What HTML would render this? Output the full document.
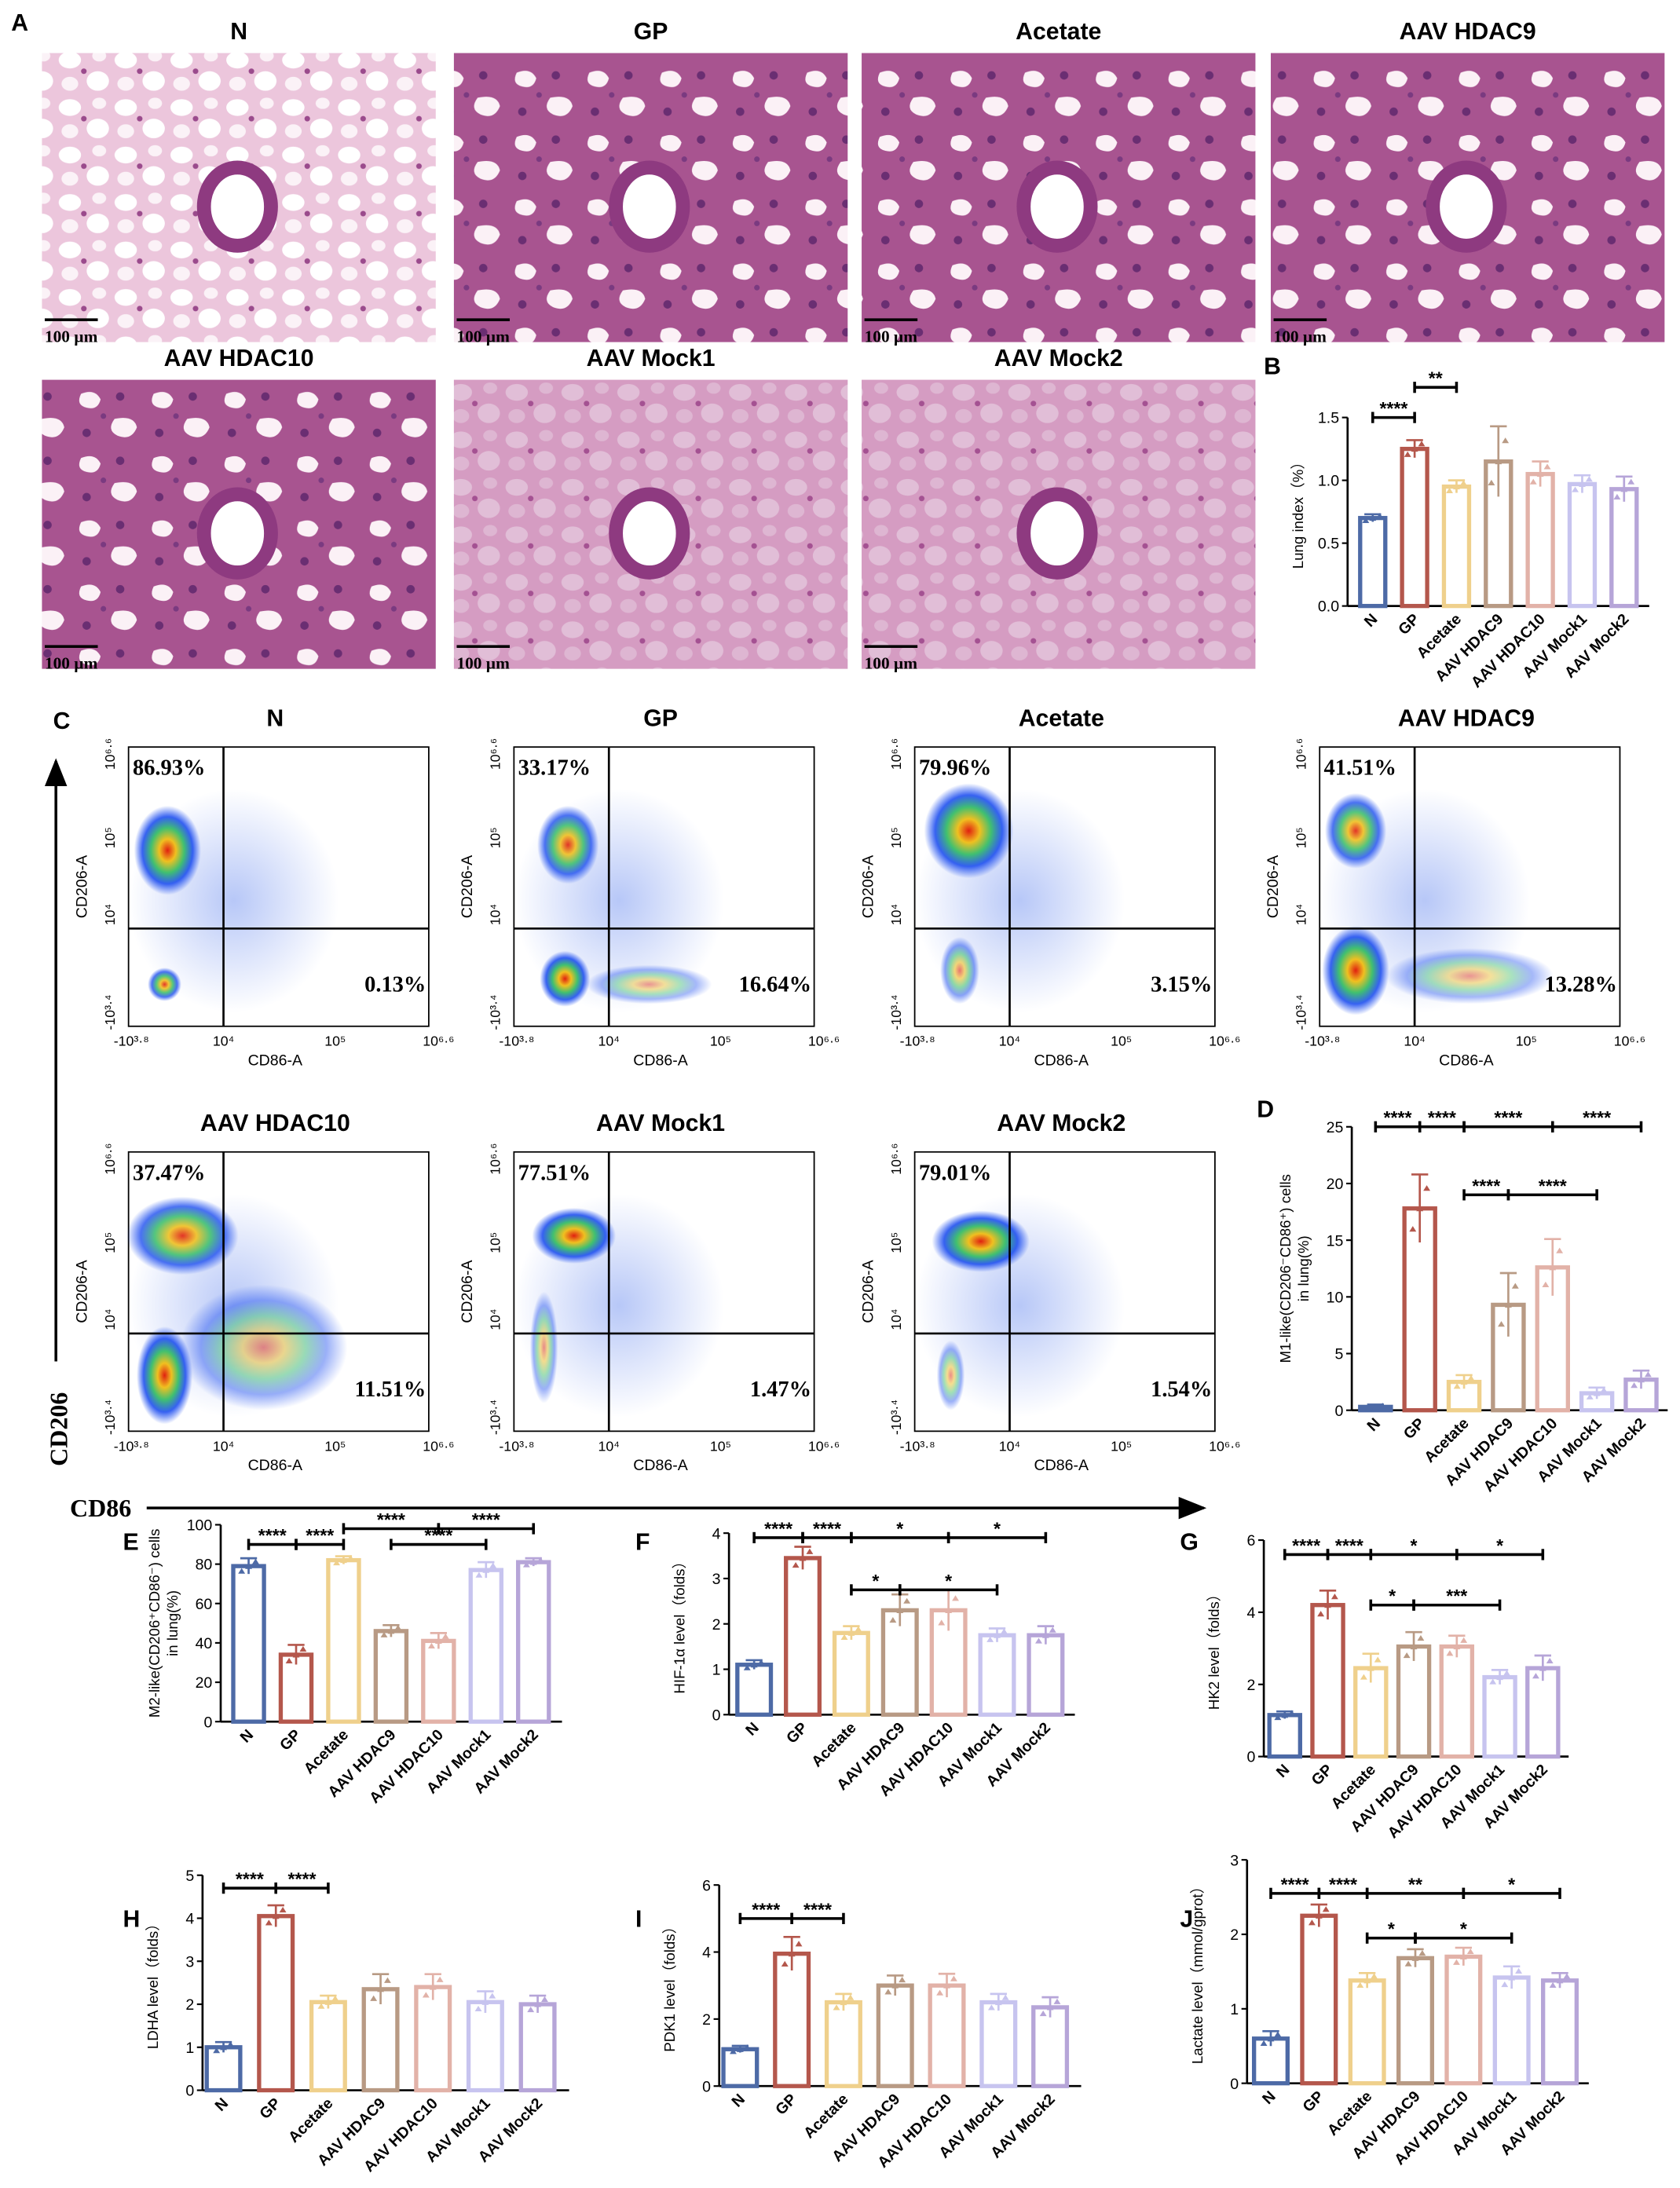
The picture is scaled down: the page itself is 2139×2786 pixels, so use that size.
<!DOCTYPE html>
<html><head><meta charset="utf-8">
<style>
html,body{margin:0;padding:0;background:#fff;}
svg{display:block;font-family:"Liberation Sans",Arial,sans-serif;}
</style></head>
<body>
<svg id="fig" xmlns="http://www.w3.org/2000/svg" width="2139" height="2786" viewBox="0 0 1203 1567">
<defs>
<pattern id="patLight" width="40" height="34" patternUnits="userSpaceOnUse">
<rect width="40" height="34" fill="#ecc6dc"/>
<ellipse cx="10" cy="9" rx="8" ry="6" fill="#fff"/>
<ellipse cx="30" cy="24" rx="8" ry="7" fill="#fff"/>
<ellipse cx="31" cy="6" rx="5" ry="4" fill="#fbf2f7"/>
<ellipse cx="10" cy="26" rx="6" ry="5" fill="#fbf2f7"/>
<circle cx="20" cy="17" r="2" fill="#9a4a8c"/>
</pattern>
<pattern id="patDark" width="52" height="46" patternUnits="userSpaceOnUse">
<rect width="52" height="46" fill="#a85490"/>
<path d="M6,6 q10,-4 14,4 q-2,8 -10,6 q-8,-2 -4,-10z" fill="#fbf1f6"/>
<path d="M30,24 q14,-3 16,6 q-4,10 -14,6 q-8,-4 -2,-12z" fill="#fbf1f6"/>
<circle cx="34" cy="8" r="3" fill="#6a2e72"/>
<circle cx="10" cy="34" r="3" fill="#6a2e72"/>
<circle cx="22" cy="22" r="2" fill="#7a3a80"/>
</pattern>
<radialGradient id="blob"><stop offset="0" stop-color="#e02010"/><stop offset="0.25" stop-color="#f0c020"/><stop offset="0.5" stop-color="#40c070"/><stop offset="0.75" stop-color="#2050f0" stop-opacity="0.9"/><stop offset="1" stop-color="#2050f0" stop-opacity="0"/></radialGradient>
<radialGradient id="haze"><stop offset="0" stop-color="#2a5ae8" stop-opacity="0.75"/><stop offset="1" stop-color="#2a5ae8" stop-opacity="0"/></radialGradient>
<marker id="arr" markerWidth="10" markerHeight="8" refX="9" refY="4" orient="auto"><path d="M0,0 L10,4 L0,8 z" fill="#000"/></marker>
</defs>
<g id="root"></g>
</svg>
<script>
// ---------- data ----------
const groups = ["N","GP","Acetate","AAV HDAC9","AAV HDAC10","AAV Mock1","AAV Mock2"];
const colors = ["#4d6aa6","#b4574c","#efd08c","#b89a84","#e2b2a8","#c7c4ef","#b6a5d8"];
const valsB = [0.70,1.25,0.95,1.15,1.05,0.97,0.93];
const errB = [0.03,0.07,0.05,0.28,0.10,0.07,0.10];
const valsD = [0.3,17.8,2.5,9.3,12.6,1.5,2.7];
const errD = [0.2,3.0,0.6,2.8,2.5,0.5,0.8];
const valsE = [79,34,82,46,41,77,81];
const errE = [4,5,2,3,4,4,2];
const valsF = [1.10,3.45,1.80,2.30,2.30,1.75,1.75];
const errF = [0.10,0.25,0.15,0.35,0.45,0.15,0.20];
const valsG = [1.15,4.20,2.45,3.05,3.05,2.20,2.45];
const errG = [0.10,0.40,0.40,0.40,0.30,0.20,0.35];
const valsH = [1.00,4.05,2.05,2.35,2.40,2.05,2.00];
const errH = [0.12,0.25,0.15,0.35,0.30,0.25,0.20];
const valsI = [1.10,3.95,2.50,3.00,3.00,2.50,2.35];
const errI = [0.10,0.50,0.25,0.30,0.35,0.25,0.30];
const valsJ = [0.60,2.25,1.38,1.68,1.70,1.42,1.38];
const errJ = [0.10,0.15,0.10,0.12,0.12,0.15,0.10];
const sigB = [[0,1,1.5,"****"],[1,2,1.74,"**"]];
const sigD = [[0,1,25,"****"],[1,2,25,"****"],[2,4,25,"****"],[4,6,25,"****"],[2,3,19,"****"],[3,5,19,"****"]];
const sigE = [[0,1,90,"****"],[1,2,90,"****"],[3,5,90,"****"],[2,4,98,"****"],[4,6,98,"****"]];
const sigF = [[0,1,3.9,"****"],[1,2,3.9,"****"],[2,4,3.9,"*"],[4,6,3.9,"*"],[2,3,2.75,"*"],[3,5,2.75,"*"]];
const sigG = [[0,1,5.6,"****"],[1,2,5.6,"****"],[2,4,5.6,"*"],[4,6,5.6,"*"],[2,3,4.2,"*"],[3,5,4.2,"***"]];
const sigH = [[0,1,4.7,"****"],[1,2,4.7,"****"]];
const sigI = [[0,1,5.0,"****"],[1,2,5.0,"****"]];
const sigJ = [[0,1,2.55,"****"],[1,2,2.55,"****"],[2,4,2.55,"**"],[4,6,2.55,"*"],[2,3,1.95,"*"],[3,5,1.95,"*"]];
const ticksB = [0,0.5,1.0,1.5], ticksD=[0,5,10,15,20,25], ticksE=[0,20,40,60,80,100], ticksF=[0,1,2,3,4], ticksG=[0,2,4,6], ticksH=[0,1,2,3,4,5], ticksI=[0,2,4,6], ticksJ=[0,1,2,3];
const flowPct = [["86.93%","0.13%"],["33.17%","16.64%"],["79.96%","3.15%"],["41.51%","13.28%"],["37.47%","11.51%"],["77.51%","1.47%"],["79.01%","1.54%"]];

const NS="http://www.w3.org/2000/svg";
const root=document.getElementById("root");
function el(tag,attrs,parent,text){const e=document.createElementNS(NS,tag);for(const k in attrs)e.setAttribute(k,attrs[k]);if(text!==undefined)e.textContent=text;(parent||root).appendChild(e);return e;}

// ---------- panel letters ----------
[["A",8,22],["B",905,268],["C",38,522],["D",900,800],["E",88,1110],["F",455,1110],["G",845,1110],["H",88,1380],["I",455,1380],["J",845,1380]].forEach(p=>{
  const t=el("text",{x:p[1],y:p[2],"font-size":17,"font-weight":"bold"},root,p[0]);
  
  
});

// ---------- histology ----------
const histo=[["N",30,38,"patLight"],["GP",325,38,"patDark"],["Acetate",617,38,"patDark"],["AAV HDAC9",910,38,"patDark"],["AAV HDAC10",30,272,"patDark"],["AAV Mock1",325,272,"patLight"],["AAV Mock2",617,272,"patLight"]];
histo.forEach(h=>{
  const g=el("g",{});
  
  
  el("rect",{x:h[1],y:h[2],width:282,height:207,fill:"url(#"+h[3]+")"},g);
  if(h[0]==="AAV Mock1"||h[0]==="AAV Mock2") el("rect",{x:h[1],y:h[2],width:282,height:207,fill:"#b35d9a",opacity:0.4},g);
  el("ellipse",{cx:h[1]+140,cy:h[2]+110,rx:24,ry:28,fill:"#fff",stroke:"#8e3a80","stroke-width":10},g);
  el("text",{x:h[1]+141,y:h[2]-10,"font-size":17,"font-weight":"bold","text-anchor":"middle"},g,h[0]);
  el("rect",{x:h[1]+2,y:h[2]+190,width:38,height:2,fill:"#000"},g);
  el("text",{x:h[1]+2,y:h[2]+207,"font-size":12,"font-weight":"bold","font-family":"Liberation Serif, serif"},g,"100 µm");
});

// ---------- flow plots ----------
const flowTitles=["N","GP","Acetate","AAV HDAC9","AAV HDAC10","AAV Mock1","AAV Mock2"];
const flowPos=[[92,535],[368,535],[655,535],[945,535],[92,825],[368,825],[655,825]];
const blobs=[
 [[0.13,0.37,24,32,1],[0.12,0.85,12,12,0.9]],
 [[0.18,0.35,22,28,0.9],[0.17,0.83,18,20,1],[0.45,0.85,45,14,0.45]],
 [[0.18,0.3,32,34,1],[0.15,0.8,14,24,0.6]],
 [[0.12,0.3,22,27,0.9],[0.12,0.8,24,32,1],[0.5,0.82,60,20,0.45]],
 [[0.18,0.3,40,28,0.9],[0.12,0.8,20,35,1],[0.45,0.7,60,45,0.5]],
 [[0.2,0.3,30,20,1],[0.1,0.7,10,40,0.5]],
 [[0.22,0.32,35,22,1],[0.12,0.8,10,25,0.5]]
];
flowPos.forEach((p,i)=>{
  const g=el("g",{});
  
  
  const x=p[0],y=p[1],w=215,h=200;
  el("text",{x:x+105,y:y-15,"font-size":17,"font-weight":"bold","text-anchor":"middle"},g,flowTitles[i]);
  el("rect",{x:x,y:y,width:w,height:h,fill:"#fff",stroke:"#000","stroke-width":1},g);
  el("ellipse",{cx:x+w*0.35,cy:y+h*0.55,rx:w*0.35,ry:h*0.4,fill:"url(#haze)",opacity:0.45},g);
  blobs[i].forEach(b=>{el("ellipse",{cx:x+w*b[0],cy:y+h*b[1],rx:b[2],ry:b[3],fill:"url(#blob)",opacity:b[4]},g);});
  const vx=x+68,hy=y+130;
  el("line",{x1:vx,y1:y,x2:vx,y2:y+h,stroke:"#000","stroke-width":1.5},g);
  el("line",{x1:x,y1:hy,x2:x+w,y2:hy,stroke:"#000","stroke-width":1.5},g);
  el("text",{x:x+3,y:y+20,"font-size":16,"font-weight":"bold","font-family":"Liberation Serif, serif"},g,flowPct[i][0]);
  el("text",{x:x+w-2,y:y+h-25,"font-size":16,"font-weight":"bold","font-family":"Liberation Serif, serif","text-anchor":"end"},g,flowPct[i][1]);
  [["-10³·⁸",x+2],["10⁴",x+68],["10⁵",x+148],["10⁶·⁶",x+222]].forEach(t=>el("text",{x:t[1],y:y+h+14,"font-size":10,"text-anchor":"middle"},g,t[0]));
  el("text",{x:x+105,y:y+h+28,"font-size":11,"text-anchor":"middle"},g,"CD86-A");
  [["10⁶·⁶",y+5],["10⁵",y+65],["10⁴",y+120],["-10³·⁴",y+190]].forEach(t=>el("text",{x:x-10,y:t[1],"font-size":10,"text-anchor":"middle",transform:`rotate(-90 ${x-10} ${t[1]})`},g,t[0]));
  el("text",{x:x-30,y:y+100,"font-size":11,"text-anchor":"middle",transform:`rotate(-90 ${x-30} ${y+100})`},g,"CD206-A");
});
// big axes
el("line",{x1:40,y1:975,x2:40,y2:545,stroke:"#000","stroke-width":2,"marker-end":"url(#arr)"});
el("line",{x1:105,y1:1080,x2:862,y2:1080,stroke:"#000","stroke-width":2,"marker-end":"url(#arr)"});
el("text",{x:48,y:1050,"font-size":18,"font-weight":"bold","font-family":"Liberation Serif, serif",transform:"rotate(-90 48 1050)"},root,"CD206");
el("text",{x:50,y:1086,"font-size":18,"font-weight":"bold","font-family":"Liberation Serif, serif"},root,"CD86");

// ---------- bar charts ----------
function chart(name,vals,errs,ticks,sigs,axX,c0,step,bw,y0,ymax,ypx,title,tickFmt){
  const g=el("g",{});
  
  
  const ys=v=>y0-v*(y0-ypx)/ymax;
  const xs=i=>c0+i*step;
  const top=ys(ticks[ticks.length-1]);
  el("line",{x1:axX,y1:y0,x2:axX,y2:top,stroke:"#000","stroke-width":1.5},g);
  el("line",{x1:axX,y1:y0,x2:xs(6)+step*0.6,y2:y0,stroke:"#000","stroke-width":1.5},g);
  ticks.forEach(t=>{
    el("line",{x1:axX-4,y1:ys(t),x2:axX,y2:ys(t),stroke:"#000","stroke-width":1.2},g);
    el("text",{x:axX-6,y:ys(t)+4,"font-size":11,"text-anchor":"end"},g,tickFmt?t.toFixed(1):t);
  });
  vals.forEach((v,i)=>{
    const b=el("rect",{x:xs(i)-bw/2,y:ys(v),width:bw,height:y0-ys(v),fill:"#fff",stroke:colors[i],"stroke-width":3},g);
    
    
    const e=errs[i];
    el("line",{x1:xs(i),y1:ys(v+e),x2:xs(i),y2:ys(v-e),stroke:colors[i],"stroke-width":1.5},g);
    el("line",{x1:xs(i)-6,y1:ys(v+e),x2:xs(i)+6,y2:ys(v+e),stroke:colors[i],"stroke-width":1.5},g);
    [-5,0,5].forEach((d,k)=>el("path",{d:`M${xs(i)+d-2.5},${ys(v+(k-1)*e*0.6)+2} l5,0 l-2.5,-4 z`,fill:colors[i]},g));
    const lx=xs(i)+4,ly=y0+10;
    el("text",{x:lx,y:ly,"font-size":11,"font-weight":"bold","text-anchor":"end",transform:`rotate(-45 ${lx} ${ly})`},g,groups[i]);
  });
  sigs.forEach(s=>{
    const yy=ys(s[2]),a=xs(s[0]),b=xs(s[1]);
    el("line",{x1:a,y1:yy,x2:b,y2:yy,stroke:"#000","stroke-width":2},g);
    el("line",{x1:a,y1:yy-4,x2:a,y2:yy+4,stroke:"#000","stroke-width":2},g);
    el("line",{x1:b,y1:yy-4,x2:b,y2:yy+4,stroke:"#000","stroke-width":2},g);
    el("text",{x:(a+b)/2,y:yy-2,"font-size":13,"font-weight":"bold","text-anchor":"middle"},g,s[3]);
  });
  const tx=axX-(title.length>1?44:32),ty=(y0+top)/2;
  const t=el("text",{x:tx,y:ty,"font-size":10.5,"text-anchor":"middle",transform:`rotate(-90 ${tx} ${ty})`},g);
  title.forEach((line,k)=>el("tspan",{x:tx,dy:k?13:0},t,line));
}
chart("chart-b-lung-index",valsB,errB,ticksB,sigB,965,983,30,18,434,1.5,299,["Lung index（%）"],true);
chart("chart-d-m1-like",valsD,errD,ticksD,sigD,968,985,31.7,22,1010,25,807,["M1-like(CD206⁻CD86⁺) cells","in lung(%)"]);
chart("chart-e-m2-like",valsE,errE,ticksE,sigE,158,178,34,22,1233,100,1092,["M2-like(CD206⁺CD86⁻) cells","in lung(%)"]);
chart("chart-f-hif1a",valsF,errF,ticksF,sigF,522,540,34.8,24,1228,4,1098,["HIF-1α level（folds）"]);
chart("chart-g-hk2",valsG,errG,ticksG,sigG,905,920,30.8,22,1258,6,1103,["HK2 level（folds）"]);
chart("chart-h-ldha",valsH,errH,ticksH,sigH,145,160,37.5,24,1497,5,1343,["LDHA level（folds）"]);
chart("chart-i-pdk1",valsI,errI,ticksI,sigI,515,530,37,24,1494,6,1350,["PDK1 level（folds）"]);
chart("chart-j-lactate",valsJ,errJ,ticksJ,sigJ,893,910,34.5,24,1492,3,1332,["Lactate level（mmol/gprot）"]);
</script>
</body></html>
